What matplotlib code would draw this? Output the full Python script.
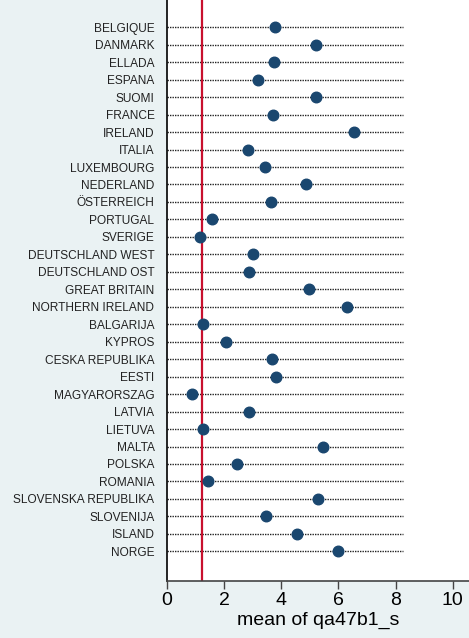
import matplotlib.pyplot as plt

countries = [
    "BELGIQUE", "DANMARK", "ELLADA", "ESPANA", "SUOMI", "FRANCE", "IRELAND",
    "ITALIA", "LUXEMBOURG", "NEDERLAND", "ÖSTERREICH", "PORTUGAL", "SVERIGE",
    "DEUTSCHLAND WEST", "DEUTSCHLAND OST", "GREAT BRITAIN", "NORTHERN IRELAND",
    "BALGARIJA", "KYPROS", "CESKA REPUBLIKA", "EESTI", "MAGYARORSZAG", "LATVIA",
    "LIETUVA", "MALTA", "POLSKA", "ROMANIA", "SLOVENSKA REPUBLIKA", "SLOVENIJA",
    "ISLAND", "NORGE",
]
means = [
    3.79, 5.21, 3.75, 3.17, 5.21, 3.72, 6.54,
    2.83, 3.42, 4.88, 3.63, 1.58, 1.17,
    3.00, 2.87, 4.97, 6.29,
    1.25, 2.07, 3.68, 3.83, 0.89, 2.87,
    1.25, 5.47, 2.45, 1.45, 5.28, 3.45,
    4.56, 5.98,
]
ref_value = 1.23
line_end = 8.25
xticks = [0, 2, 4, 6, 8, 10]

plt.rcParams["font.family"] = ["Liberation Sans", "DejaVu Sans"]

fig = plt.figure(figsize=(4.69, 6.38), dpi=100)
fig.patch.set_facecolor("#EAF2F3")
ax = fig.add_axes([0.356, 0.0893, 0.644, 0.9107])
ax.set_facecolor("white")

ypos = [-i for i in range(len(countries))]

# dotted guide lines
ax.hlines(ypos, 0, line_end, colors="#222222", linestyles=(0, (1, 0.8)), linewidth=1.0, zorder=1)
ax.axvline(ref_value, color="#C8102E", linewidth=1.6, zorder=2)
ax.plot(means, ypos, "o", color="#1A476F", markersize=7.6, zorder=3)

ax.set_xlim(0, 10.57)
ax.set_ylim(-30 - 1.70, 1.56)
ax.set_xticks(xticks)
ax.set_xticklabels([str(t) for t in xticks], fontsize=14)
ax.set_yticks(ypos)
ax.set_yticklabels(countries, fontsize=8.6, color="#222222")
ax.tick_params(axis="y", length=0, pad=9)
ax.tick_params(axis="x", length=6, width=1, color="#444444", pad=2, direction="out")
ax.set_xlabel("mean of qa47b1_s", fontsize=14, labelpad=2)

for side in ["top", "right"]:
    ax.spines[side].set_visible(False)
ax.spines["left"].set_color("black")
ax.spines["left"].set_linewidth(1.2)
ax.spines["bottom"].set_color("#444444")
ax.spines["bottom"].set_linewidth(1.2)

fig.savefig("out.png", dpi=100, facecolor=fig.get_facecolor())
